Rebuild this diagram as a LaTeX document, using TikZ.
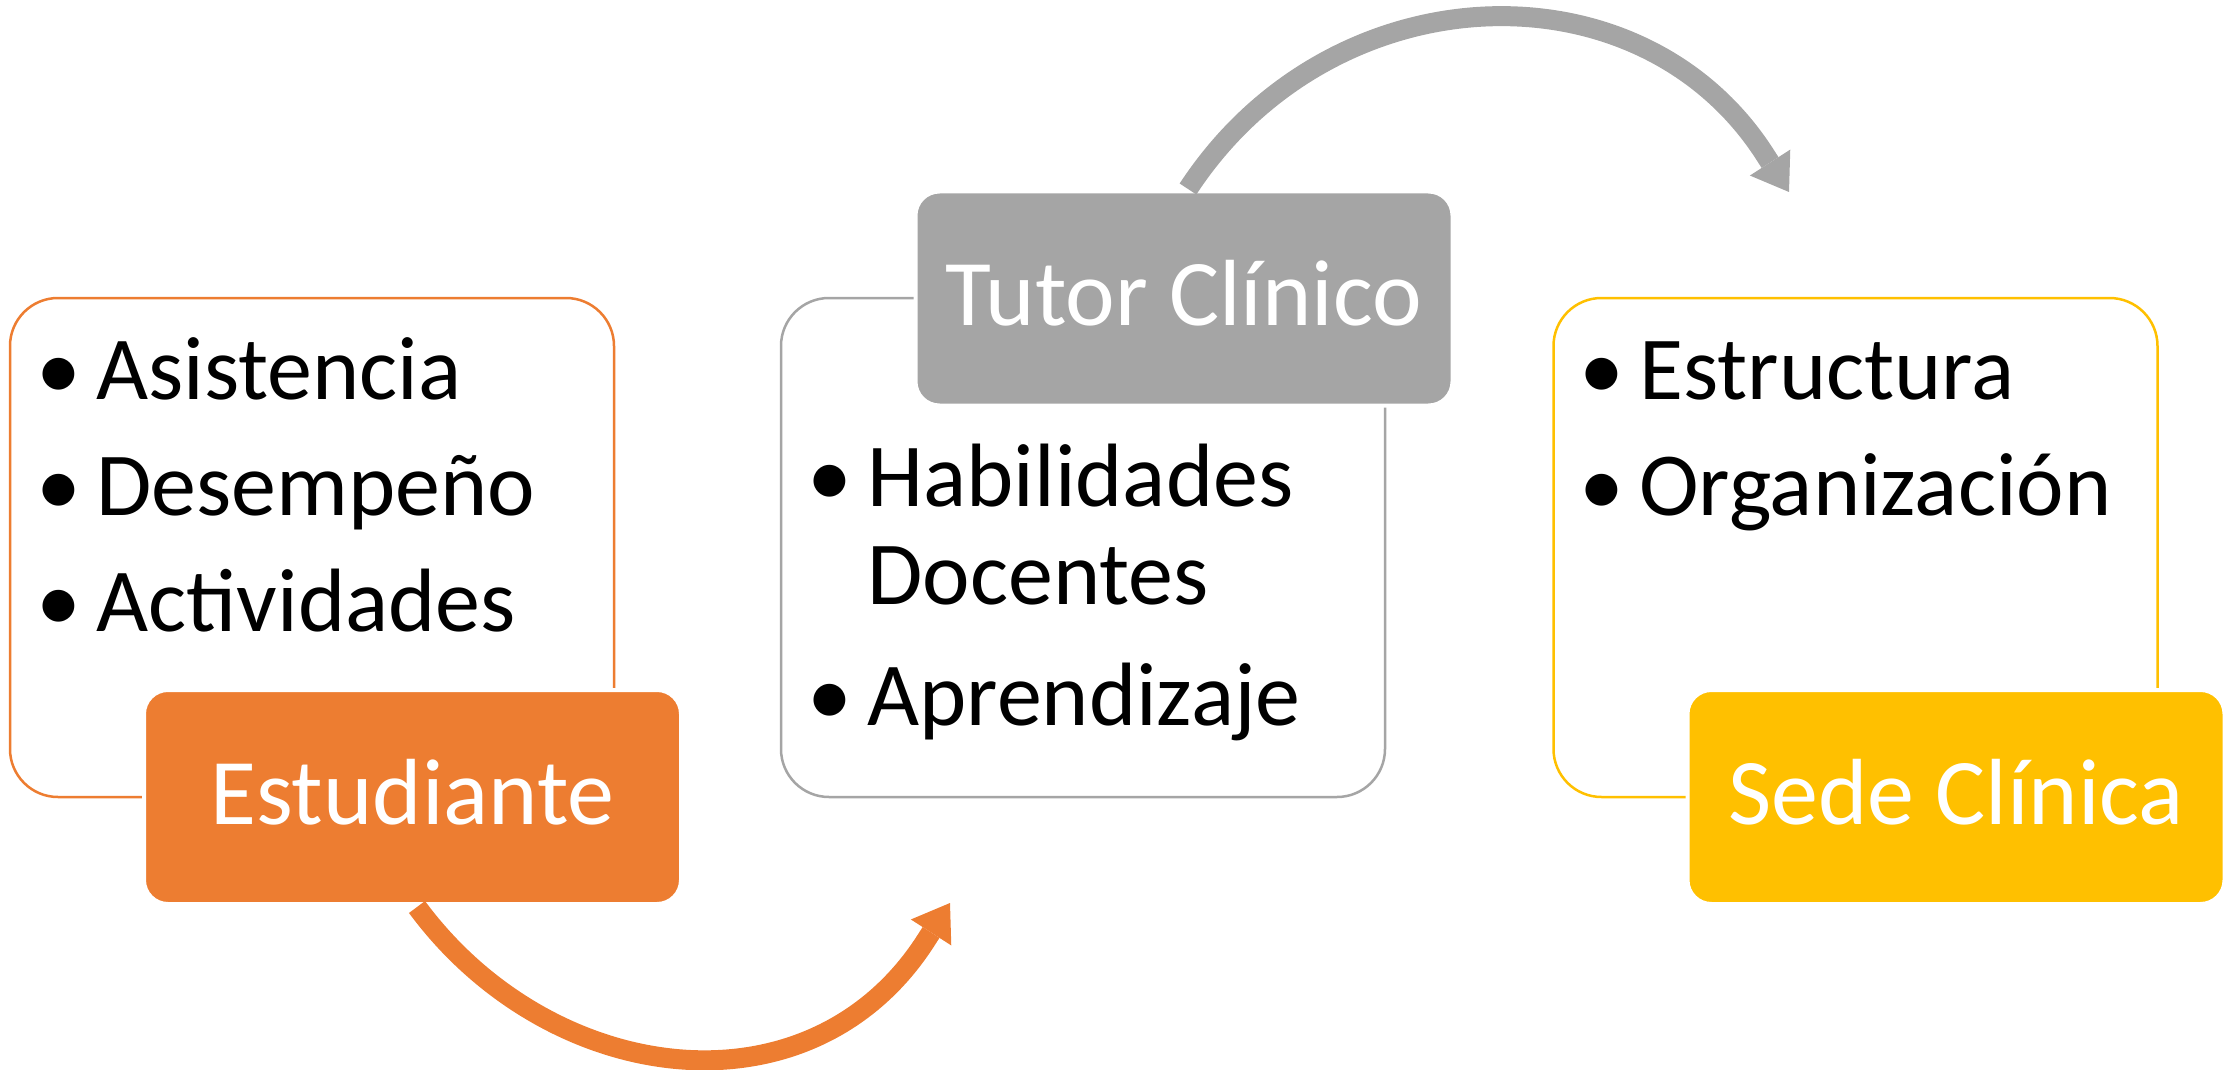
\documentclass[tikz,border=0pt]{standalone}
\usepackage{fontspec}
\setmainfont{Carlito}
\usetikzlibrary{arrows.meta}
\definecolor{corange}{HTML}{ED7D31}
\definecolor{cgray}{HTML}{A5A5A5}
\definecolor{cyellow}{HTML}{FFC000}
\begin{document}
\begin{tikzpicture}[x=0.5pt,y=-0.5pt,
  outerbox/.style={draw=#1, line width=1.25pt, rounded corners=24pt, minimum width=302pt, minimum height=249.5pt, inner sep=0pt, outer sep=0pt, fill=white},
  labelbox/.style={fill=#1, draw=white, line width=2pt, rounded corners=12pt, minimum width=268.5pt, minimum height=107pt, inner sep=0pt, outer sep=0pt, text=white, font=\fontsize{47pt}{50pt}\selectfont, text height=27pt, text depth=0pt},
  itemtext/.style={anchor=base west, inner sep=0pt, font=\fontsize{45pt}{48pt}\selectfont},
  bul/.style={anchor=base, inner sep=0pt, font=\fontsize{45pt}{48pt}\selectfont},
  flow/.style={draw=#1, line width=10pt, -{Triangle[length=17.5pt,width=24pt,line width=0pt]}}
]
\useasboundingbox (0,0) rectangle (2229,1070);
% outer boxes
\node[outerbox=corange] (lbox) at (312,547.5) {};
\node[outerbox=cgray] (mbox) at (1083,547.5) {};
\node[outerbox=cyellow] (rbox) at (1855.5,547.5) {};
% label boxes
\node[labelbox=corange] (est) at (412.5,797) {Estudiante};
\node[labelbox=cgray] (tutor) at (1184,298.5) {Tutor Clínico};
\node[labelbox=cyellow] (sede) at (1956,797) {Sede Clínica};
% left items
\node[bul] (lb1) at (59,399) {•};
\node[itemtext] (lt1) at (96,399) {Asistencia};
\node[bul] (lb2) at (59,515) {•};
\node[itemtext] (lt2) at (96,515) {Desempeño};
\node[bul] (lb3) at (59,631) {•};
\node[itemtext] (lt3) at (96,631) {Actividades};
% middle items
\node[bul] (mb1) at (830,506) {•};
\node[itemtext] (mt1) at (867,506) {Habilidades};
\node[itemtext] (mt1b) at (867,604) {Docentes};
\node[bul] (mb2) at (830,725) {•};
\node[itemtext] (mt2) at (867,725) {Aprendizaje};
% right items
\node[bul] (rb1) at (1602,399) {•};
\node[itemtext] (rt1) at (1639,399) {Estructura};
\node[bul] (rb2) at (1602,515) {•};
\node[itemtext] (rt2) at (1639,515) {Organización};
% arrows
\coordinate (oend) at (950,903);
\coordinate (gend) at (1789,192);
\draw[flow=corange] ([shift={(4.5,3)}]est.south) .. controls (549.8,1087) and (809.6,1121.4) .. (925.7,940.8) -- (oend);
\draw[flow=cgray] ([shift={(4,-2.5)}]tutor.north) .. controls (1331,-29.4) and (1639.4,-40.7) .. (1764.7,154.2) -- (gend);
\end{tikzpicture}
\end{document}
